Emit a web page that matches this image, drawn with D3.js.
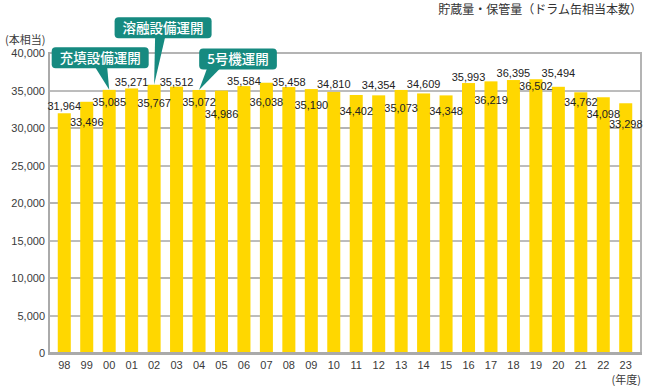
<!DOCTYPE html>
<html>
<head>
<meta charset="utf-8">
<script src="https://cdn.jsdelivr.net/npm/d3@7"></script>
<style>
  body { margin: 0; background: #fff; }
  svg { display: block; font-family: "Noto Sans CJK JP", "Noto Sans", sans-serif; }
</style>
</head>
<body>
<svg id="chart" width="650" height="386"></svg>
<script>
//-- data --//
var years = ["98","99","00","01","02","03","04","05","06","07","08","09","10",
             "11","12","13","14","15","16","17","18","19","20","21","22","23"];
var stock = [31964, 33496, 35085, 35271, 35767, 35512, 35072, 34986, 35584, 36038,
             35458, 35190, 34810, 34402, 34354, 35073, 34609, 34348, 35993, 36219,
             36395, 36502, 35494, 34762, 34098, 33298];
var yTicks = [0, 5000, 10000, 15000, 20000, 25000, 30000, 35000, 40000];
var events = ["充填設備運開", "溶融設備運開", "5号機運開"];
var eventYears = ["00", "02", "04"];
//-- data --//

//-- label placement (px from bar top, centre of text) --//
var labelDy = [-7, 20, 12, -6, 18, -5, 12, 24, -5, 19, -5, 16, -8, 16, -10, 18,
               -9, 16, -6, 19, -7, 7, -14, 10, 17, 21];
// callout box centre relative to the bar top, and pointer base relative to box centre
var calloutPos = [
  {dx: -9, dy: -32, b0: -5, b1: 7},
  {dx: 9, dy: -57, b0: -8, b1: 2},
  {dx: 39, dy: -31, b0: -31, b1: -18}
];

var svg = d3.select("#chart"),
    margin = {top: 53, left: 49, bottom: 33, right: 9},
    width = +svg.attr("width"),
    height = +svg.attr("height");

//--scales--//
var x = d3.scaleBand()
    .domain(years)
    .range([margin.left, width - margin.right])
    .paddingInner(0.42)
    .paddingOuter(0.39);

var y = d3.scaleLinear()
    .domain([0, 40000])
    .range([height - margin.bottom, margin.top]);

var fmt = d3.format(",");

//--grid--//
svg.append("g").selectAll("line")
    .data(yTicks.filter(d => d > 0))
    .enter().append("line")
    .attr("x1", margin.left)
    .attr("x2", width - margin.right)
    .attr("y1", d => y(d) + (d % 10000 ? 0.5 : 0))
    .attr("y2", d => y(d) + (d % 10000 ? 0.5 : 0))
    .attr("stroke", d => d % 10000 ? "#7a7a7a" : "#b4b4b4")
    .attr("stroke-width", d => d % 10000 ? 1 : 2);

// right border
svg.append("line")
    .attr("x1", width - margin.right).attr("x2", width - margin.right)
    .attr("y1", y(40000) - 1).attr("y2", y(0))
    .attr("stroke", "#b4b4b4").attr("stroke-width", 2);

//--bars--//
svg.append("g").selectAll("rect")
    .data(stock)
    .enter().append("rect")
    .attr("x", (d, i) => x(years[i]))
    .attr("width", x.bandwidth())
    .attr("y", d => y(d))
    .attr("height", d => y(0) - y(d))
    .attr("fill", "#ffd700");

//--axes--//
svg.append("line")
    .attr("x1", margin.left).attr("x2", margin.left)
    .attr("y1", y(40000) - 1).attr("y2", y(0) + 1.5)
    .attr("stroke", "#aaaaaa").attr("stroke-width", 2);
svg.append("line")
    .attr("x1", margin.left - 1).attr("x2", width - margin.right + 1)
    .attr("y1", y(0) + 0.5).attr("y2", y(0) + 0.5)
    .attr("stroke", "#aaaaaa").attr("stroke-width", 3);

var yAxis = svg.append("g")
    .attr("transform", `translate(${margin.left},0)`)
    .call(d3.axisLeft(y).tickValues(yTicks).tickFormat(fmt).tickSize(0).tickPadding(4));
yAxis.select(".domain").remove();
yAxis.selectAll("text")
    .style("font-size", "11px")
    .attr("fill", "#3a3a3a");

var xAxis = svg.append("g")
    .attr("transform", `translate(0,${y(0)})`)
    .call(d3.axisBottom(x).tickSize(0).tickPadding(8));
xAxis.select(".domain").remove();
xAxis.selectAll("text")
    .style("font-size", "11px")
    .attr("fill", "#3a3a3a");

//--axis titles--//
svg.append("text")
    .attr("x", 5).attr("y", 44)
    .style("font-size", "11px")
    .attr("fill", "#3a3a3a")
    .text("(本相当)");

svg.append("text")
    .attr("x", width - margin.right).attr("y", 384)
    .attr("text-anchor", "end")
    .style("font-size", "11px")
    .attr("fill", "#3a3a3a")
    .text("(年度)");

svg.append("text")
    .attr("x", 642).attr("y", 14)
    .attr("text-anchor", "end")
    .style("font-size", "12px")
    .attr("fill", "#333")
    .text("貯蔵量・保管量（ドラム缶相当本数）");

//--value labels--//
svg.append("g").selectAll("text")
    .data(stock)
    .enter().append("text")
    .attr("x", (d, i) => x(years[i]) + x.bandwidth() / 2)
    .attr("y", (d, i) => y(d) + labelDy[i])
    .attr("dy", "0.35em")
    .attr("text-anchor", "middle")
    .style("font-family", "'Liberation Sans Narrow', 'Liberation Sans', Arial, sans-serif")
    .style("font-size", "11px")
    .attr("fill", "#222")
    .text(d => fmt(d));

//--callouts--//
var teal = "#168a80";
events.forEach(function(name, i) {
    var yr = eventYears[i];
    var v = stock[years.indexOf(yr)];
    var tipX = x(yr) + x.bandwidth() / 2,
        tipY = y(v);
    var p = calloutPos[i];
    var cx = tipX + p.dx, cy = tipY + p.dy;

    var g = svg.append("g");
    var t = g.append("text")
        .attr("x", cx).attr("y", cy)
        .attr("dy", "0.36em")
        .attr("text-anchor", "middle")
        .style("font-size", "13.5px")
        .style("font-weight", 500)
        .attr("fill", "#fff")
        .text(name);
    var w = t.node().getBBox().width + 16, h = 21;

    g.insert("path", "text")
        .attr("d", `M${cx + p.b0},${cy + h / 2 - 1} L${tipX},${tipY} L${cx + p.b1},${cy + h / 2 - 1} Z`)
        .attr("fill", teal);
    g.insert("rect", "text")
        .attr("x", cx - w / 2).attr("y", cy - h / 2)
        .attr("width", w).attr("height", h)
        .attr("rx", 4)
        .attr("fill", teal);
});
</script>
</body>
</html>
